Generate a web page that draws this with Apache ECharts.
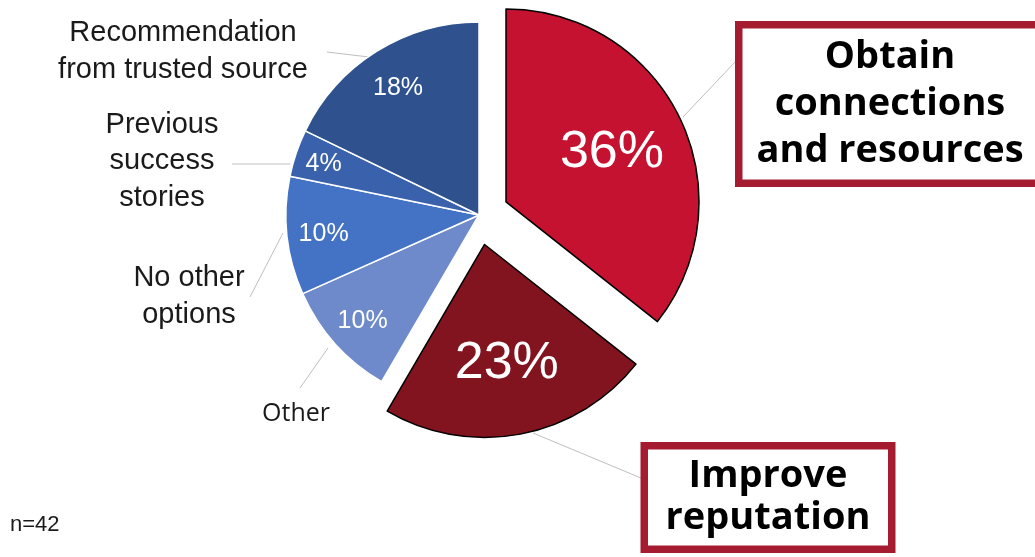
<!DOCTYPE html>
<html>
<head>
<meta charset="utf-8">
<script src="https://cdn.jsdelivr.net/npm/echarts@6/dist/echarts.min.js"></script>
<style>
html,body{margin:0;padding:0;background:#ffffff;}
#chart{width:1035px;height:557px;}
</style>
</head>
<body>
<div id="chart"></div>
<script>
// ---- data ----
const categories = [
  'Obtain\nconnections\nand resources',
  'Improve\nreputation',
  'Other',
  'No other\noptions',
  'Previous\nsuccess\nstories',
  'Recommendation\nfrom trusted source'
];
const values = [36, 23, 10, 10, 4, 18];
const percentLabels = ['36%', '23%', '10%', '10%', '4%', '18%'];
const sampleNote = 'n=42';

// ---- styling / layout ----
const colors = ['#C41230', '#82141F', '#6F8ACA', '#4472C4', '#3A62AC', '#2F528F'];
const borderColors = ['#000000', '#000000', '#ffffff', '#ffffff', '#ffffff', '#ffffff'];
const exploded = [true, true, false, false, false, false];
const CX = 479, CY = 215, R = 193, OFFSET = 30;
const pctRadiusFrac = [0.61, 0.62, 0.81, 0.81, 0.85, 0.79];
const pctFontSize = [52, 52, 25, 25, 25, 25];
const nameLabelPos = [[890, 104], [768, 497.5], [296, 414], [189, 296.5], [162, 161], [183, 51.5]];
const leaderLines = [
  [[683, 117], [736, 61]],
  [[533, 433], [641, 478]],
  [[300, 388], [328, 348]],
  [[250, 297], [283, 233]],
  [[232, 164], [290, 164]],
  [[327, 52], [369, 57]]
];
const BOX_COLOR = '#A51C30';
const textFont = 'Liberation Sans, Arial, sans-serif';

const total = values.reduce((a, b) => a + b, 0);
const midAngles = [];
(function () {
  let acc = 0;
  values.forEach(v => { midAngles.push((acc + v / 2) / total * 2 * Math.PI); acc += v; });
})();
function offsetOf(i) { return exploded[i] ? OFFSET : 0; }
function centerOf(i) {
  const o = offsetOf(i);
  return [CX + o * Math.sin(midAngles[i]), CY - o * Math.cos(midAngles[i])];
}

const base = {
  type: 'pie',
  radius: R,
  startAngle: 90,
  clockwise: true,
  avoidLabelOverlap: false,
  silent: true,
  animation: false,
  emphasis: { disabled: true }
};

function sliceSeries(visible, center) {
  return Object.assign({}, base, {
    center: center,
    label: { show: false },
    labelLine: { show: false },
    data: values.map((v, i) => ({
      name: categories[i],
      value: v,
      itemStyle: visible(i)
        ? { color: colors[i], borderColor: borderColors[i], borderWidth: 1.5 }
        : { color: 'rgba(0,0,0,0)', borderWidth: 0 }
    }))
  });
}

const series = [];
series.push(sliceSeries(i => !exploded[i], [CX, CY]));
exploded.forEach((e, k) => { if (e) series.push(sliceSeries(i => i === k, centerOf(k))); });

// percentage labels
series.push(Object.assign({}, base, {
  center: [CX, CY],
  itemStyle: { color: 'rgba(0,0,0,0)', borderWidth: 0 },
  labelLine: { show: false },
  label: {
    show: true,
    position: 'inside',
    color: '#ffffff',
    fontFamily: textFont,
    formatter: p => percentLabels[p.dataIndex]
  },
  labelLayout: p => {
    const i = p.dataIndex;
    const a = midAngles[i];
    const d = offsetOf(i) + R * pctRadiusFrac[i];
    return { x: CX + d * Math.sin(a), y: CY - d * Math.cos(a) + 2, align: 'center', verticalAlign: 'middle' };
  },
  data: values.map((v, i) => ({ name: categories[i], value: v, label: { fontSize: pctFontSize[i] } }))
}));

// category labels
const boxLabel = [
  { width: 295, padding: [5, 0], lineHeight: 47 },
  { width: 240, padding: [6, 0], lineHeight: 42 }
];
series.push(Object.assign({}, base, {
  center: [CX, CY],
  itemStyle: { color: 'rgba(0,0,0,0)', borderWidth: 0 },
  labelLine: { show: true, length: 10, length2: 10, lineStyle: { color: '#BFBFBF', width: 1 } },
  label: {
    show: true,
    position: 'outside',
    color: '#1a1a1a',
    fontFamily: textFont,
    fontSize: 29,
    lineHeight: 36.5,
    align: 'center',
    formatter: p => categories[p.dataIndex]
  },
  labelLayout: p => {
    const i = p.dataIndex;
    return {
      x: nameLabelPos[i][0], y: nameLabelPos[i][1],
      align: 'center', verticalAlign: 'middle',
      labelLinePoints: leaderLines[i]
    };
  },
  data: values.map((v, i) => {
    const item = { name: categories[i], value: v };
    if (exploded[i]) {
      const b = boxLabel[i];
      item.label = {
        fontFamily: 'Open Sans, sans-serif', fontWeight: 'bold', fontSize: 38,
        color: '#000000', lineHeight: b.lineHeight, width: b.width, padding: b.padding,
        backgroundColor: '#ffffff', borderColor: BOX_COLOR, borderWidth: 7.5, align: 'center'
      };
    } else if (categories[i] === 'Other') {
      item.label = { fontFamily: 'Open Sans, sans-serif', fontSize: 25 };
    }
    return item;
  })
}));

const chart = echarts.init(document.getElementById('chart'), null, { renderer: 'canvas' });
chart.setOption({
  backgroundColor: '#ffffff',
  animation: false,
  title: {
    text: sampleNote, left: 10, top: 514, padding: 0,
    textStyle: { fontFamily: textFont, fontSize: 22, fontWeight: 'normal', color: '#1a1a1a' }
  },
  series: series
});
</script>
</body>
</html>
